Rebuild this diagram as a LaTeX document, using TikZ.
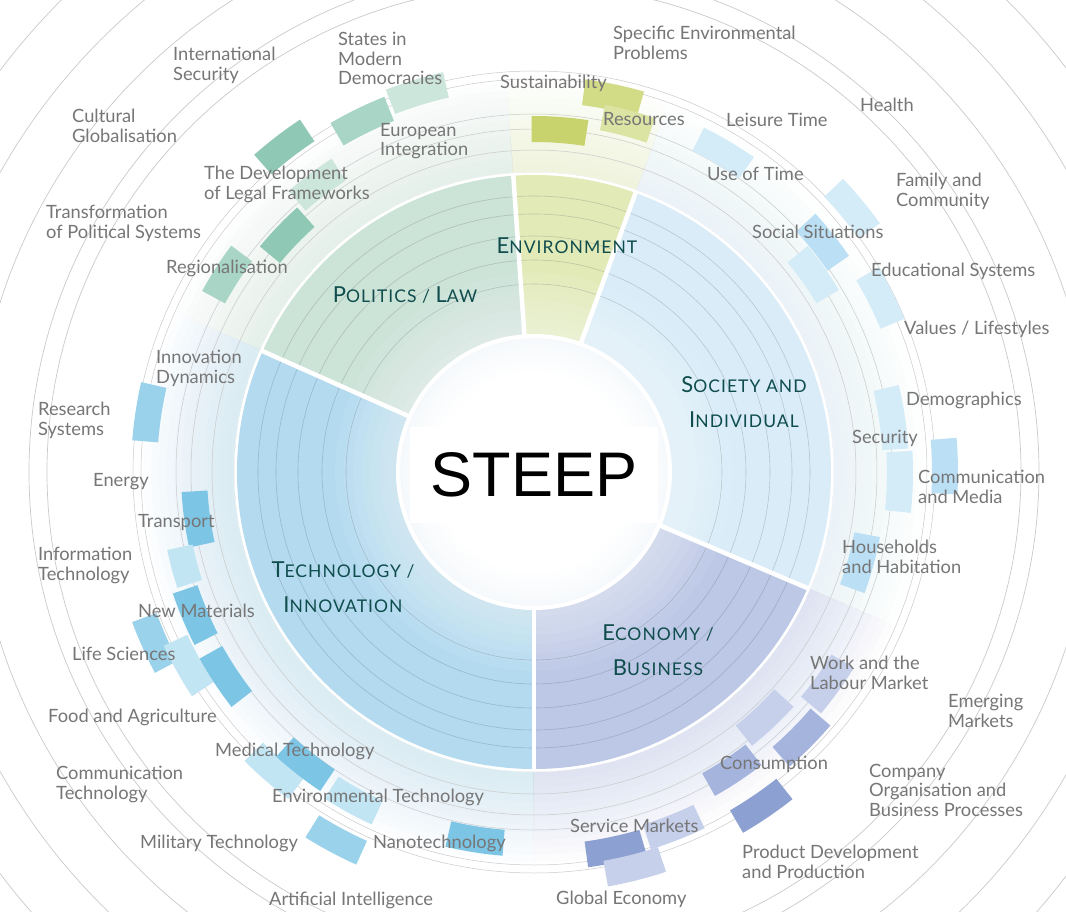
\documentclass[tikz,border=0pt]{standalone}
\usepackage{fontspec}
\setmainfont{Lato}
\newfontfamily\steepfont{Liberation Sans}
\newfontfamily\catfont{Lato}[LetterSpace=6.0]
\usetikzlibrary{positioning}

\definecolor{lblgray}{HTML}{767676}
\definecolor{catteal}{HTML}{0F4C4C}
\definecolor{ringline}{HTML}{CACACA}
\definecolor{innerline}{HTML}{4A5A60}
\definecolor{corec}{HTML}{D3E2EE}
% sector colours
\definecolor{polc}{HTML}{CCE3D8}
\definecolor{envc}{HTML}{E2EAB8}
\definecolor{socc}{HTML}{D9ECF8}
\definecolor{tecc}{HTML}{B3DAEF}
\definecolor{ecoc}{HTML}{BCC8E6}
% topic boxes
\definecolor{pdark}{HTML}{8FC8B4}
\definecolor{pmid}{HTML}{A8D5C5}
\definecolor{plight}{HTML}{CDE6DC}
\definecolor{edark}{HTML}{C8D36E}
\definecolor{emid}{HTML}{D2DB86}
\definecolor{elight}{HTML}{DCE4A4}
\definecolor{smid}{HTML}{BBDFF4}
\definecolor{slight}{HTML}{D4EBF8}
\definecolor{tdark}{HTML}{7DC5E5}
\definecolor{tmid}{HTML}{9AD2EB}
\definecolor{tlight}{HTML}{C2E5F4}
\definecolor{bdark}{HTML}{8DA0D2}
\definecolor{bmid}{HTML}{A4B4DD}
\definecolor{blight}{HTML}{C6D0EA}

\pgfdeclareradialshading{coreshade}{\pgfpoint{0bp}{0bp}}{color(0bp)=(white); color(18bp)=(white); color(50bp)=(corec)}

% annular segment: style, inner r, outer r, start angle, end angle
\newcommand{\ringseg}[5]{%
  \fill[#1] (#4:#2) arc[start angle=#4, end angle=#5, radius=#2]
    -- (#5:#3) arc[start angle=#5, end angle=#4, radius=#3] -- cycle;}
% fake small caps for the five sectors
\newcommand{\fsc}[2]{{\fontsize{22}{35}\selectfont #1}{\fontsize{17.5}{35}\selectfont #2}}

\tikzset{
  lbl/.style={anchor=north west, align=left, inner sep=0pt, text=lblgray,
    font=\fontsize{18.3}{19.5}\selectfont},
  cat/.style={align=center, inner sep=0pt, text=catteal,
    font=\catfont\fontsize{17.5}{35}\selectfont}
}

\begin{document}
\begin{tikzpicture}[x=1pt,y=1pt]
\useasboundingbox (-534,-439) rectangle (532,472);
\clip (-534,-439) rectangle (532,472);
\fill[white] (-534,-439) rectangle (532,472);

% soft halo around the sectors
\foreach \hc/\ha/\hb in {polc/94/156, envc/70/94, socc/-23/70, tecc/156/270, ecoc/270/337}{
  \foreach \k in {1,...,12}{
    \pgfmathsetmacro\ro{300+7.5*\k}
    \ringseg{\hc, opacity=0.045}{300}{\ro}{\ha}{\hb}
  }
}

% thin rings of the topic band
\foreach \rr in {322,343,358,393,401}
  \draw[ringline, line width=0.5] (0,0) circle[radius=\rr];

% topic boxes: colour / radius / angle / length
\foreach \bc/\br/\ba/\bw in {
  pdark/410/127.5/56, plight/360/127/52, pdark/342/136.2/52, pmid/365/147.3/52,
  pmid/391/116/58, plight/397/107/58,
  edark/343/85.8/55, emid/383/78.2/58, elight/361/75.1/50,
  slight/371/59.4/56, slight/413/39.6/56, smid/369/38.5/52, slight/342/35.2/52,
  slight/388/26.6/56, slight/362/8.5/62, slight/366/-1.5/60, smid/411/0.8/55,
  smid/339/-15.4/56,
  tmid/390/171.3/57, tdark/340/187.8/54, tlight/362/195/38, tdark/368/202.8/54,
  tmid/416/204.2/54, tlight/396/209.2/56, tdark/370/213.5/56, tlight/396/229/56,
  tdark/371/232/54, tlight/375/241.3/52, tmid/418/241.8/56, tdark/372/261/56,
  blight/362/324.2/54, blight/337/313.2/55, bmid/377/315.2/56, bmid/358/303.5/54,
  bdark/404/304.2/58, blight/382/291.4/56, bdark/386/282.1/58, blight/408/284.2/58}{
  \pgfmathsetmacro\hw{\bw/2/\br*57.2958}
  \pgfmathsetmacro\aa{\ba-\hw}
  \pgfmathsetmacro\ab{\ba+\hw}
  \pgfmathsetmacro\ri{\br-13}
  \pgfmathsetmacro\ro{\br+13}
  \ringseg{\bc}{\ri}{\ro}{\aa}{\ab}
}

% the five sectors
\ringseg{envc}{136}{297}{70}{94}
\ringseg{polc}{136}{297}{94}{156}
\ringseg{tecc}{136}{297}{156}{270}
\ringseg{ecoc}{136}{297}{270}{337}
\ringseg{socc}{136}{297}{-23}{70}
\foreach \k in {1,...,7}
  \fill[white, opacity=0.07] (0,0) circle[radius=136+9*\k];
\foreach \rr in {188,212,236,258,276}
  \draw[innerline, opacity=0.25, line width=0.6] (0,0) circle[radius=\rr];
\foreach \ang in {70,94,156,270,337}
  \draw[white, line width=4.5] (\ang:130) -- (\ang:299);

% core
\shade[shading=coreshade] (0,0) circle[radius=136];
\draw[white, line width=4] (0,0) circle[radius=136];
\node[fill=white, minimum width=248pt, minimum height=96pt, inner sep=0pt,
  font=\steepfont\fontsize{63}{63}\selectfont] (steep) at (0,-3) {STEEP};

% outer rings
\foreach \rr in {487,505,560,612,668}
  \draw[ringline, line width=0.7] (0,0) circle[radius=\rr];

% sector titles
\node[cat] (cEnv) at (33,226) {\fsc{E}{NVIRONMENT}};
\node[cat] (cPol) at (-129,177) {\fsc{P}{OLITICS / }\fsc{L}{AW}};
\node[cat] (cSoc) at (210,70) {\fsc{S}{OCIETY AND}\\\fsc{I}{NDIVIDUAL}};
\node[cat] (cTec) at (-191,-115) {\fsc{T}{ECHNOLOGY /}\\\fsc{I}{NNOVATION}};
\node[cat] (cEco) at (124,-178) {\fsc{E}{CONOMY /}\\\fsc{B}{USINESS}};

% topic labels
\node[lbl] (lIntSec) at (-361,425) {International\\Security};
\node[lbl] (lStates) at (-196,440) {States in\\Modern\\Democracies};
\node[lbl] (lSpecEnv) at (79,446) {Specific Environmental\\Problems};
\node[lbl] (lSust) at (-34,397) {Sustainability};
\node[lbl] (lCultGl) at (-462,363) {Cultural\\Globalisation};
\node[lbl] (lEurInt) at (-154,349) {European\\Integration};
\node[lbl] (lRes) at (69,360) {Resources};
\node[lbl] (lLeis) at (192,359) {Leisure Time};
\node[lbl] (lHealth) at (326,374) {Health};
\node[lbl] (lLegal) at (-330,306) {The Development\\of Legal Frameworks};
\node[lbl] (lUseTime) at (173,305) {Use of Time};
\node[lbl] (lFamily) at (362,299) {Family and\\Community};
\node[lbl] (lTransf) at (-488,267) {Transformation\\of Political Systems};
\node[lbl] (lSocSit) at (218,247) {Social Situations};
\node[lbl] (lRegion) at (-368,212) {Regionalisation};
\node[lbl] (lEduc) at (337,209) {Educational Systems};
\node[lbl] (lValues) at (370,151) {Values / Lifestyles};
\node[lbl] (lInnov) at (-378,122) {Innovation\\Dynamics};
\node[lbl] (lResSys) at (-496,70) {Research\\Systems};
\node[lbl] (lDemo) at (372,80) {Demographics};
\node[lbl] (lSecur) at (318,42) {Security};
\node[lbl] (lComMed) at (384,2) {Communication\\and Media};
\node[lbl] (lEnergy) at (-441,-1) {Energy};
\node[lbl] (lTransp) at (-396,-42) {Transport};
\node[lbl] (lInfTec) at (-496,-75) {Information\\Technology};
\node[lbl] (lHouse) at (308,-68) {Households\\and Habitation};
\node[lbl] (lNewMat) at (-396,-132) {New Materials};
\node[lbl] (lLife) at (-462,-175) {Life Sciences};
\node[lbl] (lWork) at (276,-184) {Work and the\\Labour Market};
\node[lbl] (lEmerg) at (414,-222) {Emerging\\Markets};
\node[lbl] (lFood) at (-486,-237) {Food and Agriculture};
\node[lbl] (lMedTec) at (-319,-271) {Medical Technology};
\node[lbl] (lConsum) at (186,-284) {Consumption};
\node[lbl] (lComTec) at (-478,-294) {Communication\\Technology};
\node[lbl] (lCompany) at (335,-292) {Company\\Organisation and\\Business Processes};
\node[lbl] (lEnvTec) at (-262,-317) {Environmental Technology};
\node[lbl] (lServ) at (36,-347) {Service Markets};
\node[lbl] (lMilTec) at (-394,-363) {Military Technology};
\node[lbl] (lNano) at (-161,-363) {Nanotechnology};
\node[lbl] (lProdDev) at (208,-373) {Product Development\\and Production};
\node[lbl] (lAI) at (-265,-420) {Artificial Intelligence};
\node[lbl] (lGlobal) at (22,-419) {Global Economy};
\end{tikzpicture}
\end{document}
